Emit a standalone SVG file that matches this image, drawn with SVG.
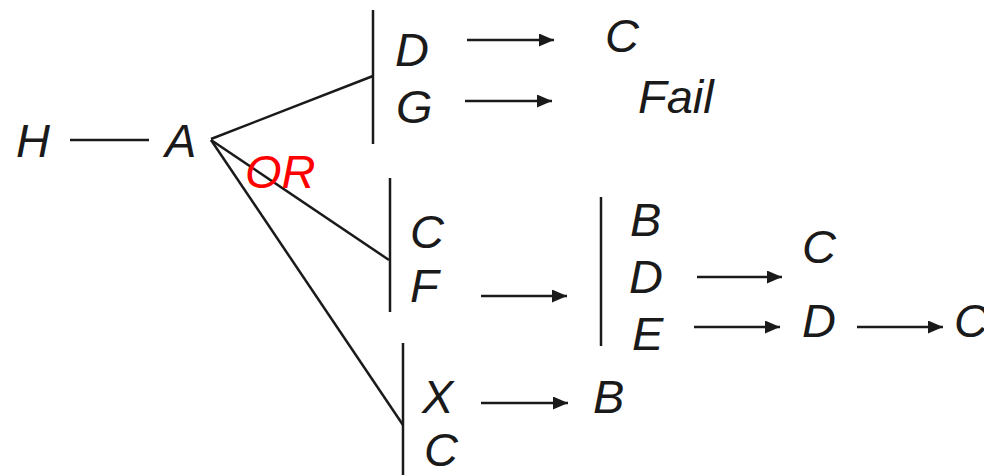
<svg xmlns="http://www.w3.org/2000/svg" width="984" height="475" viewBox="0 0 984 475">
<style>
.t{font-family:"Liberation Sans",Arial,sans-serif;font-style:italic;font-size:47px;fill:#1a1a1a}
.or{fill:#ff0000}
.l{stroke:#1a1a1a;stroke-width:2.5;fill:none}
.a{stroke:#1a1a1a;stroke-width:2.5;fill:none;marker-end:url(#ah)}
</style>
<defs>
<marker id="ah" markerUnits="userSpaceOnUse" markerWidth="16" markerHeight="14" refX="15" refY="6.5" orient="auto">
<path d="M0,0 L15,6.5 L0,13 z" fill="#1a1a1a"/>
</marker>
</defs>
<rect width="984" height="475" fill="#ffffff"/>
<g id="connectors">
<line class="l" x1="70" y1="140" x2="149" y2="140"/>
<line class="l" x1="211" y1="139" x2="373" y2="76"/>
<line class="l" x1="211" y1="140" x2="389" y2="260"/>
<line class="l" x1="211" y1="140" x2="403" y2="425"/>
<line class="l" x1="373" y1="10" x2="373" y2="144"/>
<line class="l" x1="390" y1="178" x2="390" y2="312"/>
<line class="l" x1="403" y1="343" x2="403" y2="475"/>
<line class="l" x1="601" y1="197" x2="601" y2="346"/>
<line class="a" x1="467" y1="40" x2="554" y2="40"/>
<line class="a" x1="465" y1="101" x2="552" y2="101"/>
<line class="a" x1="481" y1="296" x2="567" y2="296"/>
<line class="a" x1="697" y1="277" x2="782" y2="277"/>
<line class="a" x1="694" y1="327" x2="780" y2="327"/>
<line class="a" x1="857" y1="327" x2="943" y2="327"/>
<line class="a" x1="481" y1="403" x2="568" y2="403"/>
</g>
<g id="node-H"><text class="t" x="16" y="157">H</text></g>
<g id="node-A"><text class="t" x="165" y="157">A</text></g>
<g id="label-OR"><text class="t or" x="245" y="188">OR</text></g>
<g id="node-D1"><text class="t" x="395" y="66">D</text></g>
<g id="node-G"><text class="t" x="396" y="123">G</text></g>
<g id="node-C1"><text class="t" x="605" y="52">C</text></g>
<g id="node-Fail"><text class="t" x="638" y="113">Fail</text></g>
<g id="node-C2"><text class="t" x="410" y="248">C</text></g>
<g id="node-F"><text class="t" x="410" y="302">F</text></g>
<g id="node-B1"><text class="t" x="630" y="236">B</text></g>
<g id="node-D2"><text class="t" x="629" y="293">D</text></g>
<g id="node-E"><text class="t" x="632" y="350">E</text></g>
<g id="node-C3"><text class="t" x="802" y="263">C</text></g>
<g id="node-D3"><text class="t" x="802" y="337">D</text></g>
<g id="node-C4"><text class="t" x="954" y="337">C</text></g>
<g id="node-X"><text class="t" x="422" y="413">X</text></g>
<g id="node-B2"><text class="t" x="593" y="413">B</text></g>
<g id="node-C5"><text class="t" x="424" y="466">C</text></g>
</svg>
